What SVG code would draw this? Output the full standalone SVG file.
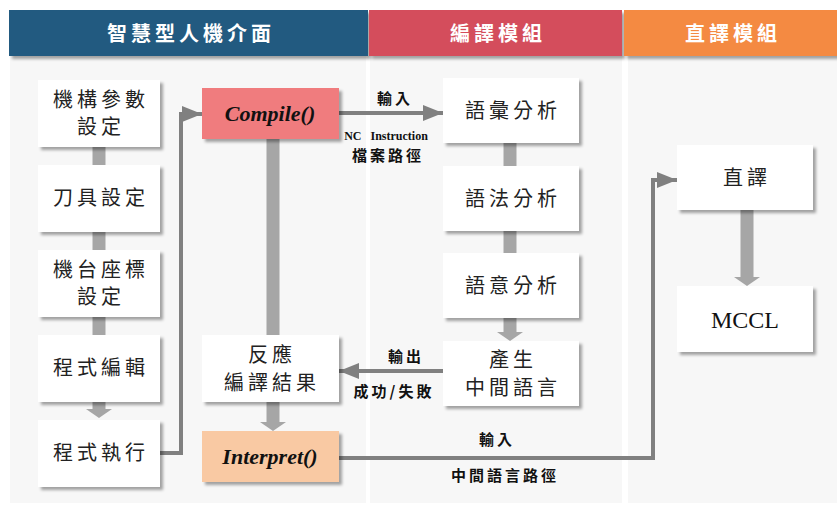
<svg xmlns="http://www.w3.org/2000/svg" width="837" height="505" viewBox="0 0 837 505">
<defs>
<filter id="sh" x="-10%" y="-10%" width="130%" height="140%">
<feDropShadow dx="3" dy="3" stdDeviation="1.5" flood-color="#000" flood-opacity="0.35"/>
</filter>
<marker id="ah" markerUnits="userSpaceOnUse" markerWidth="20" markerHeight="16" refX="20" refY="8" orient="auto">
<path d="M0,0 L20,8 L0,16 Z" fill="#808080"/>
</marker>
<marker id="bh" markerUnits="userSpaceOnUse" markerWidth="10" markerHeight="26" refX="0" refY="13" orient="auto">
<path d="M0,0 L9,13 L0,26 Z" fill="#a6a6a6"/>
</marker>
</defs>
<style>
.hdr{font-family:"Noto Sans CJK TC",sans-serif;font-size:20px;font-weight:bold;fill:#fff;text-anchor:middle;letter-spacing:4px}
.box{fill:#fff;filter:url(#sh)}
.t{font-family:"Noto Sans CJK TC",sans-serif;font-size:20px;fill:#222;text-anchor:middle;letter-spacing:4px}
.lat{font-family:"Liberation Serif","Times New Roman",serif;font-size:24px;fill:#111;text-anchor:middle}
.fn{font-family:"Liberation Serif",serif;font-size:22px;font-weight:bold;font-style:italic;fill:#111;text-anchor:middle}
.lbl{font-family:"Noto Sans CJK TC",sans-serif;font-size:15px;font-weight:bold;fill:#111;text-anchor:middle;letter-spacing:3px}
.lbll{font-family:"Liberation Serif",serif;font-size:12px;font-weight:bold;fill:#111;text-anchor:middle}
.thin{fill:none;stroke:#808080;stroke-width:4}
.bar{fill:none;stroke:#a6a6a6;stroke-width:13}
</style>
<rect width="837" height="505" fill="#fff"/>
<rect x="10" y="56" width="356" height="447" fill="#f7f7f7"/>
<rect x="370" y="56" width="252" height="447" fill="#f7f7f7"/>
<rect x="628" y="56" width="209" height="447" fill="#f7f7f7"/>
<g id="headers" filter="url(#sh)">
<rect x="9" y="10" width="359" height="46" fill="#245a80"/>
<rect x="369" y="10" width="253" height="46" fill="#d44d5c"/>
<rect x="624" y="10" width="213" height="46" fill="#f48a42"/>
</g>
<text class="hdr" x="191" y="41">智慧型人機介面</text>
<text class="hdr" x="498" y="41">編譯模組</text>
<text class="hdr" x="733" y="41">直譯模組</text>
<g id="connectors">
<path class="bar" d="M99,147 V165"/>
<path class="bar" d="M99,232 V250"/>
<path class="bar" d="M99,317 V335"/>
<path class="bar" d="M99,402 V409" marker-end="url(#bh)"/>
<path class="bar" d="M510,143 V166"/>
<path class="bar" d="M510,231 V253"/>
<path class="bar" d="M510,318 V332" marker-end="url(#bh)"/>
<path class="bar" d="M273,139 V335"/>
<path class="bar" d="M273,402 V422" marker-end="url(#bh)"/>
<path class="bar" d="M747,210 V277" marker-end="url(#bh)"/>
<path class="thin" d="M160,453 H181 V114 H202" marker-end="url(#ah)"/>
<path class="thin" d="M339,113 H443" marker-end="url(#ah)"/>
<path class="thin" d="M443,371 H339" marker-end="url(#ah)"/>
<path class="thin" d="M339,458 H653 V180 H677" marker-end="url(#ah)"/>
</g>
<g id="n1"><rect class="box" x="38" y="80" width="122" height="67"/><text class="t" x="101" y="107">機構參數</text><text class="t" x="101" y="134">設定</text></g>
<g id="n2"><rect class="box" x="38" y="165" width="122" height="67"/><text class="t" x="101" y="205">刀具設定</text></g>
<g id="n3"><rect class="box" x="38" y="250" width="122" height="67"/><text class="t" x="101" y="277">機台座標</text><text class="t" x="101" y="304">設定</text></g>
<g id="n4"><rect class="box" x="38" y="335" width="122" height="67"/><text class="t" x="101" y="375">程式編輯</text></g>
<g id="n5"><rect class="box" x="38" y="420" width="122" height="67"/><text class="t" x="101" y="460">程式執行</text></g>
<g id="compile"><rect x="202" y="88" width="137" height="51" fill="#f07b7e" filter="url(#sh)"/><text class="fn" x="270" y="121">Compile()</text></g>
<g id="feedback"><rect class="box" x="202" y="335" width="137" height="67"/><text class="t" x="272" y="362">反應</text><text class="t" x="272" y="390">編譯結果</text></g>
<g id="interpret"><rect x="202" y="431" width="137" height="51" fill="#f9c9a3" filter="url(#sh)"/><text class="fn" x="270" y="464">Interpret()</text></g>
<g id="m1"><rect class="box" x="443" y="78" width="136" height="65"/><text class="t" x="513" y="118">語彙分析</text></g>
<g id="m2"><rect class="box" x="443" y="166" width="136" height="65"/><text class="t" x="513" y="206">語法分析</text></g>
<g id="m3"><rect class="box" x="443" y="253" width="136" height="65"/><text class="t" x="513" y="293">語意分析</text></g>
<g id="m4"><rect class="box" x="443" y="341" width="136" height="65"/><text class="t" x="513" y="367">產生</text><text class="t" x="513" y="395">中間語言</text></g>
<g id="r1"><rect class="box" x="677" y="145" width="136" height="65"/><text class="t" x="747" y="185">直譯</text></g>
<g id="r2"><rect class="box" x="677" y="286" width="136" height="66"/><text class="lat" x="745" y="328">MCCL</text></g>
<g id="labels">
<text class="lbl" x="395" y="104">輸入</text>
<text class="lbll" x="386" y="140" xml:space="preserve">NC   Instruction</text>
<text class="lbl" x="388" y="161">檔案路徑</text>
<text class="lbl" x="406" y="362">輸出</text>
<text class="lbl" x="394" y="397">成功/失敗</text>
<text class="lbl" x="497" y="445">輸入</text>
<text class="lbl" x="505" y="481">中間語言路徑</text>
</g>
</svg>
